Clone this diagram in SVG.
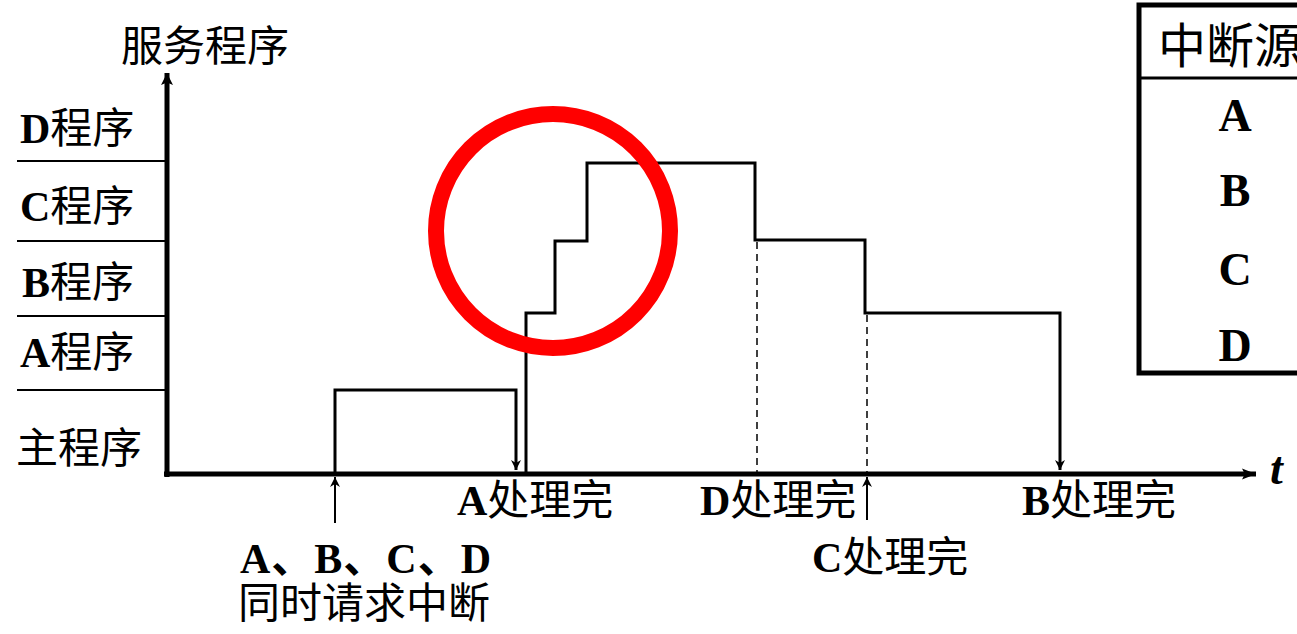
<svg xmlns="http://www.w3.org/2000/svg" width="1297" height="634" viewBox="0 0 1297 634">
<style>
.cjk{font-family:"Liberation Serif","Noto Sans CJK SC",serif;font-size:42px;fill:#000}
.b{font-weight:bold}
.ln{fill:none;stroke:#000;stroke-width:3}
.thin{fill:none;stroke:#000;stroke-width:2}
.dash{fill:none;stroke:#000;stroke-width:1.5;stroke-dasharray:7 5}
</style>
<defs>
<marker id="ah" viewBox="0 0 10 10" refX="10" refY="5" markerWidth="10" markerHeight="10" markerUnits="userSpaceOnUse" orient="auto">
<path d="M0,0 L10,5 L0,10 L3,5 Z" fill="#000"/>
</marker>
<marker id="axh" viewBox="0 0 10 10" refX="10" refY="5" markerWidth="30" markerHeight="14" markerUnits="userSpaceOnUse" orient="auto">
<path d="M0,1 L10,5 L0,9 L2,5 Z" fill="#000"/>
</marker>
<marker id="ayh" viewBox="0 0 10 10" refX="10" refY="5" markerWidth="34" markerHeight="12" markerUnits="userSpaceOnUse" orient="auto">
<path d="M0,0 L10,5 L0,10 L2,5 Z" fill="#000"/>
</marker>
</defs>

<g id="axes">
<line x1="167" y1="477" x2="167" y2="73" stroke="#000" stroke-width="5" marker-end="url(#ayh)"/>
<line x1="164" y1="474" x2="1256" y2="474" stroke="#000" stroke-width="5" marker-end="url(#axh)"/>
<text x="1270" y="484" font-family="Liberation Serif,serif" font-size="46" font-style="italic" font-weight="bold">t</text>
<text class="cjk" x="121" y="61">服务程序</text>
</g>

<g id="levels">
<line class="thin" x1="17" y1="161" x2="166" y2="161"/>
<line class="thin" x1="17" y1="241" x2="166" y2="241"/>
<line class="thin" x1="17" y1="316" x2="166" y2="316"/>
<line class="thin" x1="17" y1="390" x2="166" y2="390"/>
<text class="cjk" x="20" y="143"><tspan class="b">D</tspan>程序</text>
<text class="cjk" x="20" y="221"><tspan class="b">C</tspan>程序</text>
<text class="cjk" x="22" y="297"><tspan class="b">B</tspan>程序</text>
<text class="cjk" x="20" y="367"><tspan class="b">A</tspan>程序</text>
<text class="cjk" x="16" y="463">主程序</text>
</g>

<g id="connectors">
<polyline class="ln" points="335,472 335,390 516,390 516,470" marker-end="url(#ah)"/>
<polyline class="ln" points="526,472 526,313 555,313 555,241 587,241 587,163 755,163 755,240 865,240 865,313 1060,313 1060,470" marker-end="url(#ah)"/>
<line class="dash" x1="757" y1="242" x2="757" y2="472"/>
<line class="dash" x1="867" y1="315" x2="867" y2="472"/>
<line x1="335" y1="523" x2="335" y2="477" stroke="#000" stroke-width="2" marker-end="url(#ah)"/>
<line x1="867" y1="520" x2="867" y2="477" stroke="#000" stroke-width="2" marker-end="url(#ah)"/>
</g>

<g id="highlight">
<circle cx="553" cy="231" r="117" fill="none" stroke="#ff0000" stroke-width="16"/>
</g>

<g id="events">
<text class="cjk" x="457" y="515"><tspan class="b">A</tspan>处理完</text>
<text class="cjk" x="700" y="515"><tspan class="b">D</tspan>处理完</text>
<text class="cjk" x="1022" y="515"><tspan class="b">B</tspan>处理完</text>
<text class="cjk" x="812" y="572"><tspan class="b">C</tspan>处理完</text>
<text class="cjk b" x="240" y="573" letter-spacing="1">A、B、C、D</text>
<text class="cjk" x="238" y="618">同时请求中断</text>
</g>

<g id="table">
<rect x="1139" y="5" width="170" height="368" fill="none" stroke="#000" stroke-width="5"/>
<line x1="1139" y1="78" x2="1297" y2="78" stroke="#000" stroke-width="3"/>
<text class="cjk" x="1158" y="63" style="font-size:48px">中断源</text>
<g font-family="Liberation Serif,serif" font-weight="bold" font-size="46" text-anchor="middle">
<text x="1235" y="131">A</text>
<text x="1235" y="206">B</text>
<text x="1235" y="285">C</text>
<text x="1235" y="361">D</text>
</g>
</g>
</svg>
